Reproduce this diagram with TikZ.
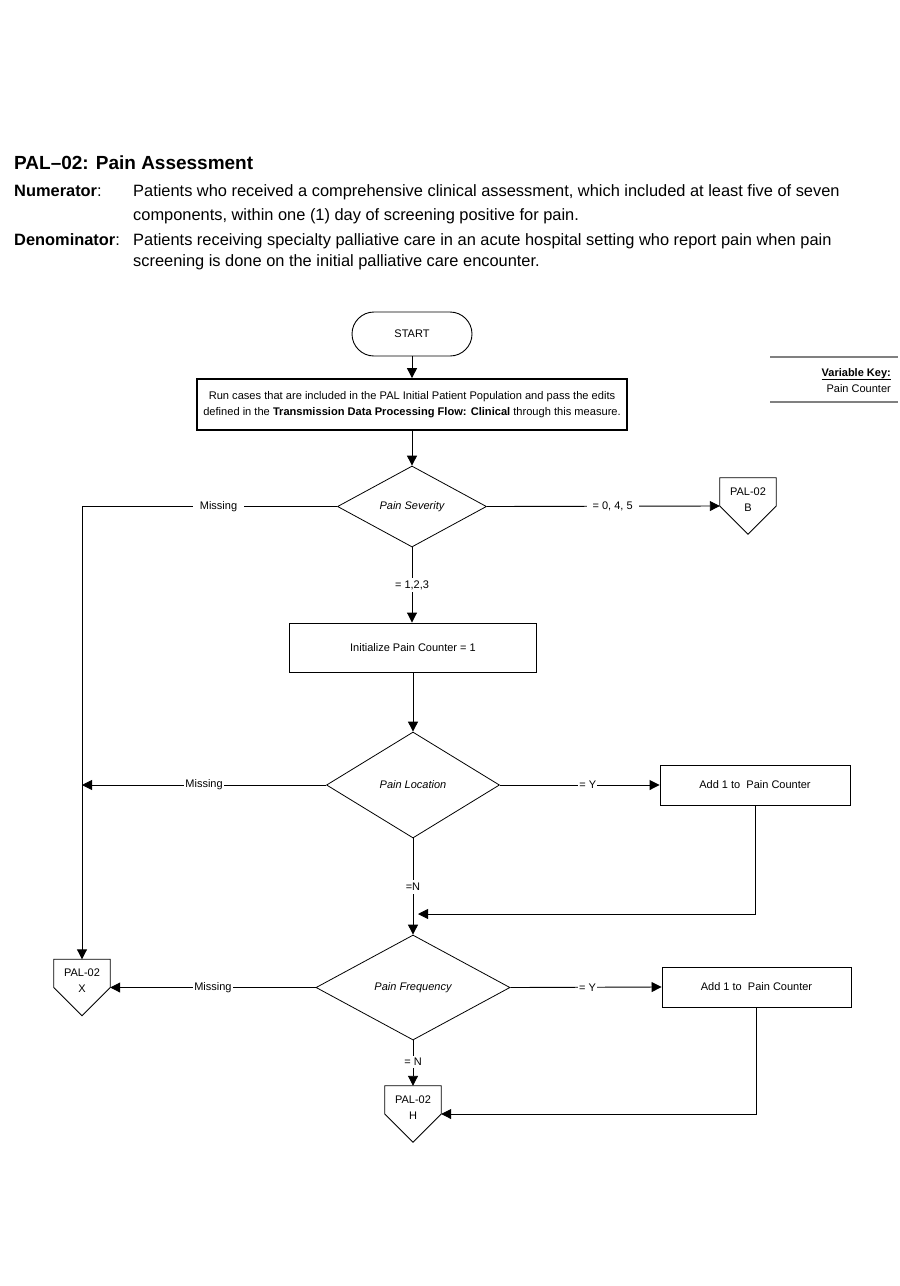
\documentclass[tikz,border=0pt]{standalone}
\usepackage{fontspec}
\setmainfont{Liberation Sans}
\usetikzlibrary{arrows.meta,shapes.geometric}
\begin{document}
\begin{tikzpicture}[x=1pt,y=-1pt,
  every node/.style={font=\fontsize{11}{13}\selectfont, inner sep=0pt},
  line/.style={draw=black, line width=0.9pt},
  arr/.style={line, -{Triangle[length=10pt,width=10pt]}},
  procbox/.style={draw, line width=0.9pt, rectangle},
  decision/.style={draw, diamond, line width=0.8pt, aspect=1, inner sep=0pt, font=\itshape\fontsize{11}{13}\selectfont},
  lbl/.style={fill=white, inner xsep=1pt, inner ysep=2pt},
  offpage/.style={minimum width=56, minimum height=56, draw=none},
  offtext/.style={align=center, font=\fontsize{11}{16}\selectfont},
  hdr/.style={anchor=base west, font=\fontsize{16.4}{20}\selectfont},
  keyline/.style={draw=black!50, line width=1.4pt},
]
\useasboundingbox (0,0) rectangle (900,1286);

% header
\node[anchor=base west, font=\bfseries\fontsize{19}{22}\selectfont] (title) at (14,169) {PAL–02: Pain Assessment};
\node[hdr] (numlab) at (14,196) {\textbf{Numerator}:};
\node[hdr] (num1) at (133,196) {Patients who received a comprehensive clinical assessment, which included at least five of seven};
\node[hdr] (num2) at (133,220) {components, within one (1) day of screening positive for pain.};
\node[hdr] (denlab) at (14,245) {\textbf{Denominator}:};
\node[hdr] (den1) at (133,245) {Patients receiving specialty palliative care in an acute hospital setting who report pain when pain};
\node[hdr] (den2) at (133,266) {screening is done on the initial palliative care encounter.};

% variable key
\coordinate (vka) at (770,357);
\coordinate (vkb) at (898,357);
\coordinate (vkc) at (770,402);
\coordinate (vkd) at (898,402);
\draw[keyline] (vka) -- (vkb);
\draw[keyline] (vkc) -- (vkd);
\node[anchor=base east, font=\bfseries\fontsize{11}{13}\selectfont] (vkt) at (891,376) {\underline{Variable Key:}};
\node[anchor=base east] (vkp) at (891,392) {Pain Counter};

% nodes
\node[draw, rounded corners=22pt, minimum width=120, minimum height=44, line width=0.9pt] (start) at (412,334) {START};
\node[procbox, line width=1.8pt, minimum width=430, minimum height=51, align=center, font=\fontsize{11.1}{16}\selectfont] (run) at (412,404.5)
  {Run cases that are included in the PAL Initial Patient Population and pass the edits\\
   defined in the \textbf{Transmission Data Processing Flow: Clinical} through this measure.};
\node[decision, minimum width=149, minimum height=81] (sev) at (412,506.5) {Pain Severity};
\node[procbox, minimum width=247, minimum height=49] (init) at (413,647.5) {Initialize Pain Counter = 1};
\node[decision, minimum width=173, minimum height=106] (loc) at (413,785) {Pain Location};
\node[procbox, minimum width=190, minimum height=40] (add1) at (755,785) {Add 1 to\ \ Pain Counter};
\node[decision, minimum width=194, minimum height=105] (freq) at (413,987.5) {Pain Frequency};
\node[procbox, minimum width=189, minimum height=40] (add2) at (756.5,987) {Add 1 to\ \ Pain Counter};

% off-page connectors
\node[offpage] (pb) at (748,506) {};
\node[offpage] (px) at (82,987.5) {};
\node[offpage] (ph) at (413,1114) {};
\foreach \n in {pb,px,ph}{
  \draw[line width=0.8pt] (\n.north west) -- (\n.north east) -- (\n.east) -- (\n.south) -- (\n.west) -- cycle;
}
\node[offtext] (pbt) at (748,499.5) {PAL-02\\B};
\node[offtext] (pxt) at (82,980.5) {PAL-02\\X};
\node[offtext] (pht) at (413,1107.5) {PAL-02\\H};

% connectors
\draw[arr] (start) -- (run);
\draw[arr] (run) -- (sev);
\coordinate (sevL) at (82,506.5);
\draw[line] (sev.west) -- node[lbl, inner xsep=7pt, pos=0.465]{Missing} (sevL);
\draw[arr] (sevL) -- (px.north);
\draw[arr] (sev.east) -- node[lbl, inner xsep=6pt, pos=0.54]{= 0, 4, 5} (pb.west);
\draw[arr] (sev.south) -- node[lbl, pos=0.5]{= 1,2,3} (sev.south |- init.north);
\draw[arr] (init.south) -- (loc.north);
\coordinate (locL) at (82,785);
\draw[arr] (loc.west) -- node[lbl, pos=0.5]{Missing} (locL);
\draw[arr] (loc.east) -- node[lbl, pos=0.55]{= Y} (add1.west);
\draw[arr] (loc.south) -- node[lbl, pos=0.505, inner ysep=3pt]{=N} (freq.north);
\coordinate (j1) at (418,914);
\draw[arr] (add1.south) |- (j1);
\draw[arr] (freq.west) -- node[lbl, pos=0.5]{Missing} (px.east);
\draw[arr] (freq.east) -- node[lbl, pos=0.51]{= Y} (add2.west);
\draw[arr] (freq.south) -- node[lbl, pos=0.48]{= N} (ph.north);
\draw[arr] (add2.south) |- (ph.east);
\end{tikzpicture}
\end{document}
